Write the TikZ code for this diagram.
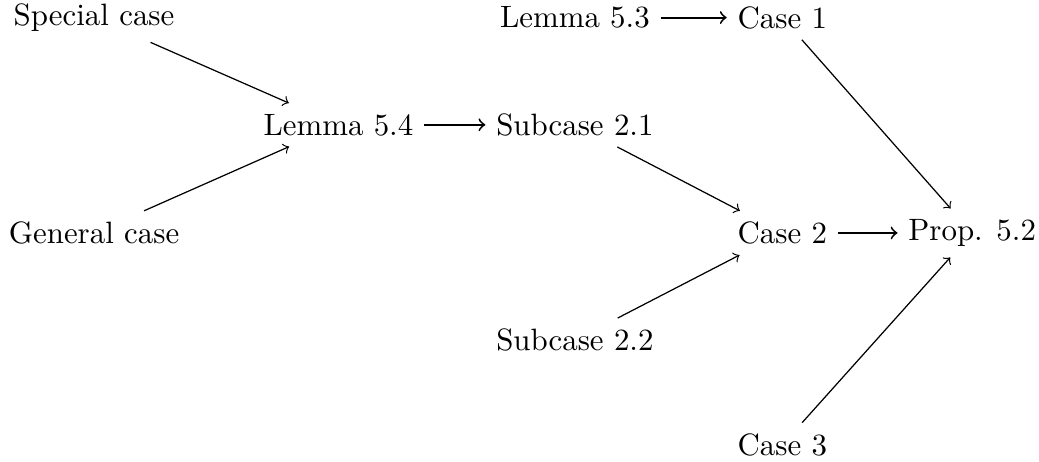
\documentclass[tikz,border=0pt]{standalone}
\usepackage{tikz}

\begin{document}
\begin{tikzpicture}
[scale=1,auto=left,every node/.style={inner sep=3.33pt}]
\useasboundingbox (0,0) rectangle (11.82,-5.255);
\node (sc)  at ( 1.07,-0.20) {Special case};
\node (gc)  at ( 1.07,-2.65) {General case};
\node (l54) at ( 3.85,-1.42) {Lemma 5.4};
\node (l53) at ( 6.54,-0.20) {Lemma 5.3};
\node (s21) at ( 6.54,-1.42) {Subcase 2.1};
\node (s22) at ( 6.54,-3.87) {Subcase 2.2};
\node (c1)  at ( 8.90,-0.20) {Case 1};
\node (c2)  at ( 8.90,-2.65) {Case 2};
\node (c3)  at ( 8.90,-5.06) {Case 3};
\node (p52) at (11.06,-2.65) {Prop. 5.2};
\foreach \from/\to in {sc/l54,gc/l54,s21/c2,s22/c2,c1/p52,c3/p52}
\draw [->] (\from) -- (\to);
\foreach \from/\to in {l54/s21,l53/c1,c2/p52}
\draw [->,line width=0.6pt] (\from.east) -- (\from.east -| \to.west);
\end{tikzpicture}
\end{document}
